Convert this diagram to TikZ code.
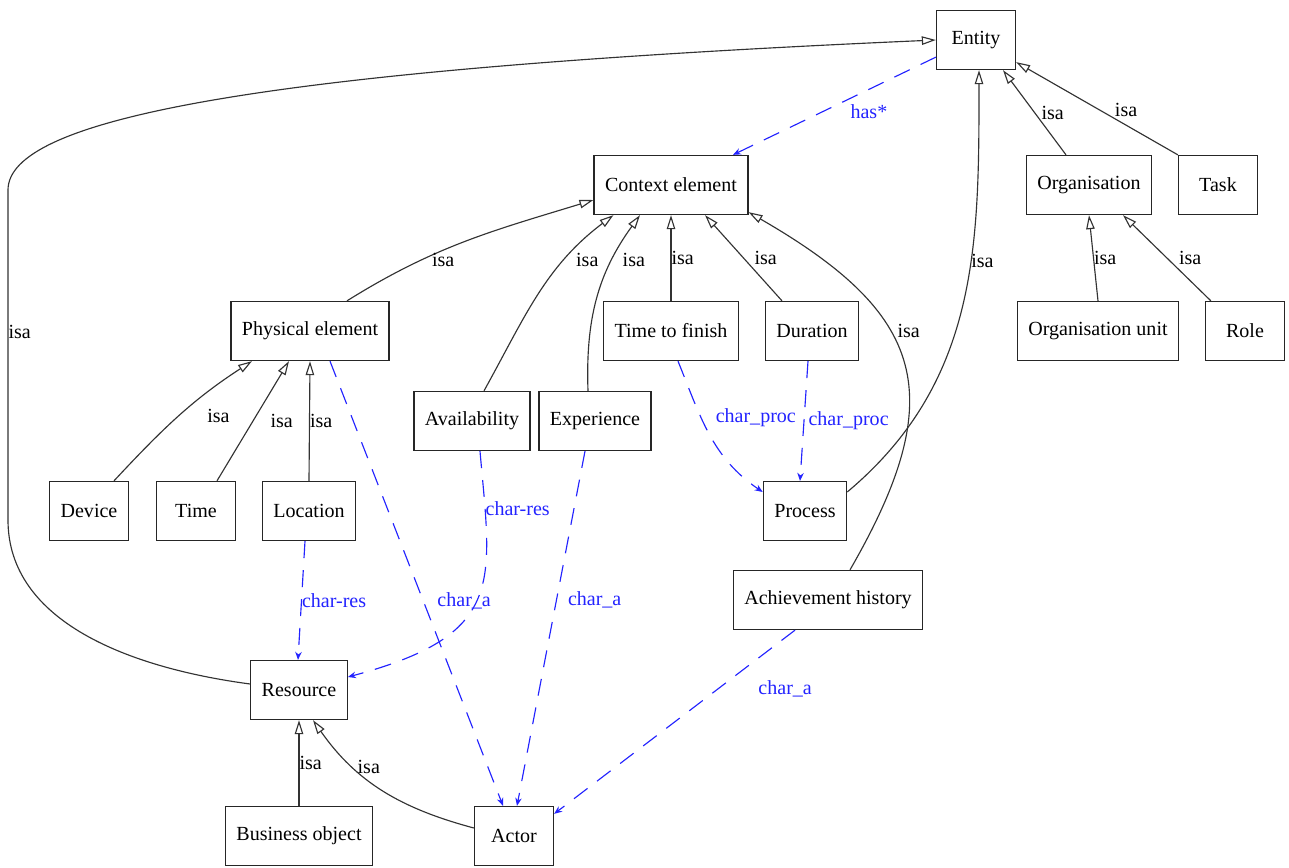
\documentclass[tikz,border=0pt]{standalone}
\usepackage{fontspec}
\setmainfont{Liberation Serif}
\usetikzlibrary{arrows.meta,calc}
\definecolor{linkblue}{RGB}{35,35,255}

\begin{document}
\begin{tikzpicture}[x=0.02cm, y=-0.02cm, font=\fontsize{11.4}{13.7}\selectfont]
\tikzstyle{block} = [draw=black!85,rectangle,line width=0.75pt,minimum height=1.18cm,minimum width=1.58cm,inner xsep=0.22cm]
\tikzstyle{isa} = [-{Triangle[open,length=0.28cm,width=0.17cm]},line width=0.65pt,draw=black!80]
\tikzstyle{charlink} = [-{Stealth[length=0.16cm,width=0.13cm]},line width=0.65pt,draw=linkblue,dash pattern=on 0.34cm off 0.24cm]
\tikzstyle{tag} = [inner sep=0pt,text=black]
\tikzstyle{chartag} = [inner sep=0pt,text=linkblue]
\useasboundingbox (0,0) rectangle (1289,868);

\node[block](ent) at (976,40) {Entity};
\node[block](ctx) at (671,185) {Context element};
\node[block](org) at (1089,185) {Organisation};
\node[block](task) at (1218,185) {Task};
\node[block](phys) at (310,331) {Physical element};
\node[block](ttf) at (671,331) {Time to finish};
\node[block](dur) at (812,331) {Duration};
\node[block](orgu) at (1098,331) {Organisation unit};
\node[block](role) at (1245,331) {Role};
\node[block](avail) at (472,421) {Availability};
\node[block](exper) at (595,421) {Experience};
\node[block](dev) at (89,511) {Device};
\node[block](time) at (196,511) {Time};
\node[block](loc) at (309,511) {Location};
\node[block](proc) at (805,511) {Process};
\node[block](ach) at (828,600) {Achievement history};
\node[block](res) at (299,690) {Resource};
\node[block](bus) at (299,836) {Business object};
\node[block](actor) at (514,836) {Actor};

\draw [isa] ($(res.west)+(0,-6)$) .. controls (130,668) and (8,622) .. (8,520) -- node[pos=0.57,right,tag]{isa} (8,190) .. controls (8,120) and (250,70) .. (ent.west);
\draw [isa] ($(org.north)+(-23,0)$) -- node[midway,right=0.13cm,tag]{isa} ($(ent.south)+(27,0)$);
\draw [isa] (task.north west) -- node[pos=0.32,above=0.15cm,tag]{isa} ($(ent.south east)+(0,-8)$);
\draw [isa] ($(proc.east)+(0,-19)$) to[out=40,in=-90] node[pos=0.6,right,tag]{isa} ($(ent.south)+(3,0)$);
\draw [isa] ($(phys.north)+(37,0)$) to[out=32,in=197] node[pos=0.4,below=0.05cm,tag]{isa} ($(ctx.west)+(0,15)$);
\draw [isa] ($(avail.north)+(12,0)$) to[out=61,in=-143] node[pos=0.71,right=0.22cm,tag]{isa} ($(ctx.south west)+(20,0)$);
\draw [isa] ($(exper.north)+(-7,0)$) to[out=92,in=-126] node[pos=0.73,right=0.2cm,tag]{isa} ($(ctx.south)+(-31,0)$);
\draw [isa] (ttf.north) -- node[midway,right,tag]{isa} (ctx.south);
\draw [isa] ($(dur.north)+(-30,0)$) -- node[midway,right=0.21cm,tag]{isa} ($(ctx.south)+(34,0)$);
\draw [isa] ($(ach.north)+(22,0)$) to[out=60,in=-30,looseness=1.4] node[pos=0.6,right=0.15cm,tag]{isa} ($(ctx.south east)+(0,-3)$);
\draw [isa] (orgu.north) -- node[midway,right,tag]{isa} (org.south);
\draw [isa] ($(role.north west)+(6,0)$) -- node[midway,right=0.23cm,tag]{isa} ($(org.south)+(34,0)$);
\draw [isa] ($(dev.north)+(25,0)$) to[out=47,in=-147] node[pos=0.5,right=0.56cm,tag]{isa} ($(phys.south)+(-58,0)$);
\draw [isa] ($(time.north)+(21,0)$) -- node[midway,right=0.34cm,tag]{isa} ($(phys.south)+(-21,0)$);
\draw [isa] (loc.north) -- node[midway,right,tag]{isa} (phys.south);
\draw [isa] (bus.north) -- node[midway,right,tag]{isa} (res.south);
\draw [isa] ($(actor.west)+(0,-8)$) to[out=165,in=-55] node[pos=0.7,right=0.08cm,tag]{isa} ($(res.south)+(14,0)$);

\draw [charlink] ($(ent.south west)+(0,-13)$) -- node[pos=0.33,below=0.3cm,chartag]{has*} ($(ctx.north)+(62,0)$);
\draw [charlink] ($(phys.south)+(20,0)$) -- node[pos=0.54,right=0.27cm,chartag]{char\_a} ($(actor.north)+(-11,0)$);
\draw [charlink] ($(loc.south)+(-4,0)$) -- node[midway,right,chartag]{char-res} ($(res.north)+(-1,0)$);
\draw [charlink] ($(avail.south)+(8,0)$) to[out=-85,in=15,out looseness=1.3,in looseness=1.6] node[pos=0.16,right,chartag]{char-res} ($(res.east)+(0,-13)$);
\draw [charlink] ($(exper.south)+(-10,0)$) -- node[pos=0.42,right=0.22cm,chartag]{char\_a} ($(actor.north)+(3,0)$);
\draw [charlink] ($(ttf.south)+(7,0)$) to[out=-68,in=146] node[pos=0.37,right=0.28cm,chartag]{char\_proc} ($(proc.west)+(0,-19)$);
\draw [charlink] ($(dur.south)+(-4,0)$) -- node[midway,right=0.08cm,chartag]{char\_proc} ($(proc.north)+(-5,0)$);
\draw [charlink] ($(ach.south)+(-33,0)$) -- node[pos=0.32,right=0.8cm,chartag]{char\_a} ($(actor.north east)+(0,8)$);
\end{tikzpicture}
\end{document}
